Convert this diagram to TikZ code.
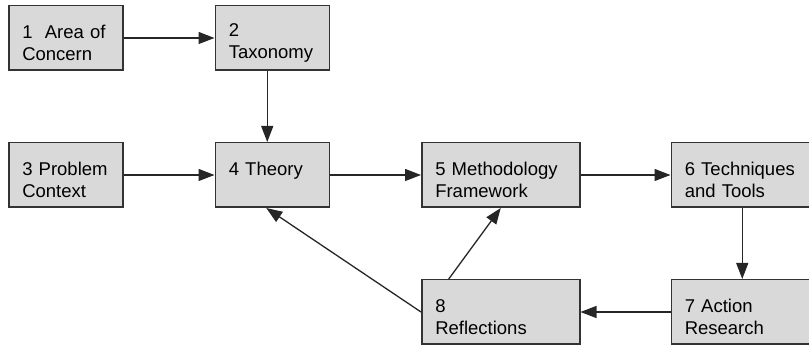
\documentclass[tikz,border=0pt]{standalone}
\usepackage{fontspec}
\setmainfont{Liberation Sans}
\usepackage{tikz}
\usetikzlibrary{positioning,arrows.meta}

\newcommand{\boxfont}{\fontsize{18.5}{22}\selectfont\hyphenpenalty=10000\relax}
\newcommand{\lift}{\rule{0pt}{23pt}}

\begin{document}
\begin{tikzpicture}[x=1pt,y=-1pt]
        \tikzstyle{box}=[draw=black!80, line width=1.5pt, fill=gray!30, align=left,
            inner xsep=13.5pt, minimum height=64.5pt, font=\boxfont]
        \tikzstyle{small}=[box, text width=87pt]
        \tikzstyle{wide}=[box, text width=131pt]
        \tikzstyle{link}=[line width=1.3pt, draw=black!85, -{Triangle[length=16pt,width=12pt]}]

        \useasboundingbox (0,0) rectangle (809,347);

        \node   (area)    [small, anchor=north west] at (8,5) {\lift 1\ \ Area of\\Concern};
        \node   (tax)     [small, right=91pt of area] {\lift 2\\Taxonomy};
        \node   (context) [small, below=71pt of area] {\lift 3 Problem\\Context};
        \node   (theory)  [small, below=71pt of tax] {\lift 4 Theory\\\mbox{}};
        \node   (method)  [wide, right=91pt of theory] {\lift 5 Methodology\\Framework};
        \node   (tools)   [wide, right=90pt of method] {\lift 6 Techniques\\and Tools};
        \node   (action)  [wide, below=71pt of tools] {\lift 7 Action\\Research};
        \node   (reflect) [wide, left=90pt of action] {\lift 8\\Reflections};

        \draw[link] (area) -- (tax);
        \draw[link] ([xshift=-5pt]tax.south) -- ([xshift=-5pt]theory.north);
        \draw[link] (context) -- (theory);
        \draw[link] (theory) -- (method);
        \draw[link] (method) -- (tools);
        \draw[link] ([xshift=-8pt]tools.south) -- ([xshift=-8pt]action.north);
        \draw[link] (action) -- (reflect);
        \draw[link] (reflect.west) -- ([xshift=-6pt]theory.south);
        \draw[link] ([xshift=-52pt]reflect.north) -- (method.south);

    \end{tikzpicture}
\end{document}
